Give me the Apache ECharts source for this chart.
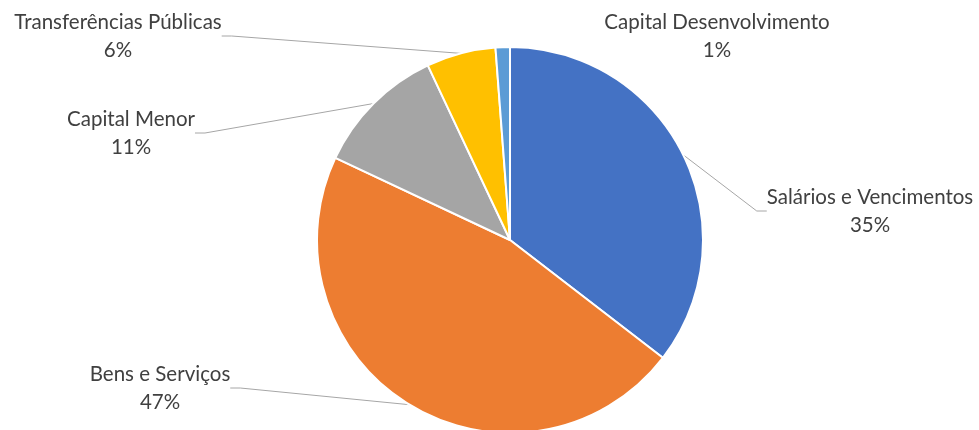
<!DOCTYPE html>
<html>
<head>
<meta charset="utf-8">
<script src="https://cdn.jsdelivr.net/npm/echarts@6/dist/echarts.min.js"></script>
<style>
  html, body { margin: 0; padding: 0; background: #fff; }
  #chart { width: 979px; height: 430px; }
</style>
</head>
<body>
<div id="chart"></div>
<script>
// dados
var categorias = ['Salários e Vencimentos', 'Bens e Serviços', 'Capital Menor', 'Transferências Públicas', 'Capital Desenvolvimento'];
var valores = [35.45, 46.55, 11.0, 5.8, 1.2];
var cores = ['#4472C4', '#ED7D31', '#A5A5A5', '#FFC000', '#5B9BD5'];

// posição dos rótulos (centro do bloco de texto)
var posRotulos = [[870, 211], [160, 388], [131, 133], [118, 36], [717, 36]];

var chart = echarts.init(document.getElementById('chart'));

var dados = categorias.map(function (nome, i) {
  var item = { name: nome, value: valores[i], itemStyle: { color: cores[i] } };
  if (i === 4) item.labelLine = { show: false };
  return item;
});

chart.setOption({
  animation: false,
  series: [{
    type: 'pie',
    center: [510, 240],
    radius: 193,
    startAngle: 90,
    clockwise: true,
    percentPrecision: 0,
    itemStyle: { borderColor: '#fff', borderWidth: 2 },
    label: {
      show: true,
      formatter: '{b}\n{d}%',
      fontFamily: 'Lato',
      fontSize: 20.5,
      lineHeight: 28,
      color: '#404040',
      align: 'center'
    },
    labelLine: {
      show: true,
      length: 10,
      length2: 10,
      lineStyle: { color: '#A6A6A6', width: 1 }
    },
    labelLayout: function (params) {
      var p = posRotulos[params.dataIndex];
      return { x: p[0], y: p[1], align: 'center', verticalAlign: 'middle' };
    },
    emphasis: { disabled: true },
    data: dados
  }]
});
</script>
</body>
</html>
